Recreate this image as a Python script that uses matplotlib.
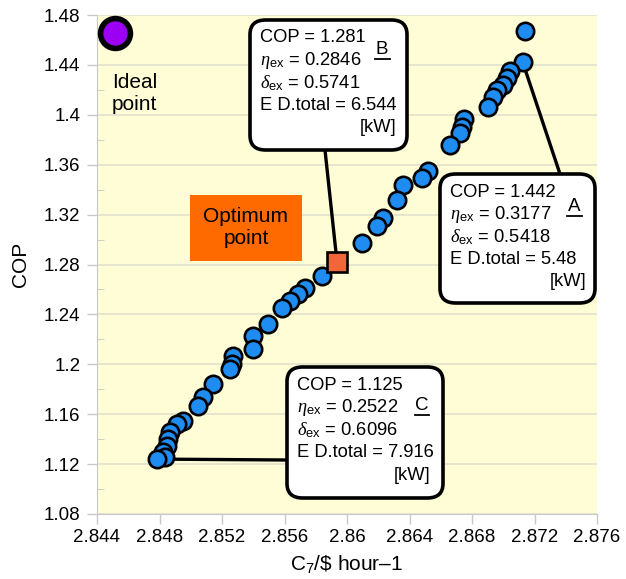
import matplotlib
matplotlib.use('Agg')
from matplotlib import pyplot as plt
from matplotlib.patches import FancyBboxPatch, Rectangle
from matplotlib.lines import Line2D

plt.rcParams['font.family'] = ['Liberation Sans', 'DejaVu Sans']
plt.rcParams['mathtext.fontset'] = 'custom'
plt.rcParams['mathtext.rm'] = 'Liberation Sans'
plt.rcParams['mathtext.sf'] = 'Liberation Sans'
plt.rcParams['mathtext.it'] = 'Liberation Serif:italic'

# Pareto front points (cost rate vs COP)
cost = [2.87139, 2.87124, 2.87043, 2.87022, 2.87000, 2.86958, 2.86936, 2.86904,
        2.86749, 2.86734, 2.86723, 2.86659, 2.86520, 2.86478, 2.86360, 2.86318,
        2.86232, 2.86190, 2.86094, 2.85838, 2.85731, 2.85688, 2.85635, 2.85582,
        2.85496, 2.85400, 2.85400, 2.85272, 2.85262, 2.85251, 2.85144, 2.85080,
        2.85048, 2.84952, 2.84910, 2.84867, 2.84856, 2.84846, 2.84824, 2.84835,
        2.84782]
cop = [1.4674, 1.4424, 1.4354, 1.4294, 1.4240, 1.4200, 1.4146, 1.4066,
       1.3966, 1.3906, 1.3856, 1.3760, 1.3546, 1.3494, 1.3440, 1.3320,
       1.3174, 1.3106, 1.2973, 1.2706, 1.2614, 1.2560, 1.2506, 1.2454,
       1.2320, 1.2226, 1.2120, 1.2066, 1.2000, 1.1960, 1.1840, 1.1734,
       1.1666, 1.1546, 1.1520, 1.1454, 1.1400, 1.1346, 1.1294, 1.1256,
       1.1240]

ideal_cost, ideal_cop = 2.84515, 1.4653
opt_cost, opt_cop = 2.85936, 1.2820
pt_a = (2.87124, 1.4424)
pt_c = (2.84782, 1.1240)

labels = {
    'B': ['COP = 1.281', r'$\eta_{\rm ex}$ = 0.2846', r'$\delta_{\rm ex}$ = 0.5741', 'E D.total = 6.544'],
    'A': ['COP = 1.442', r'$\eta_{\rm ex}$ = 0.3177', r'$\delta_{\rm ex}$ = 0.5418', 'E D.total = 5.48'],
    'C': ['COP = 1.125', r'$\eta_{\rm ex}$ = 0.2522', r'$\delta_{\rm ex}$ = 0.6096', 'E D.total = 7.916'],
}

W, H = 626, 579


def fxy(px, py):
    # figure pixels (from top-left) -> figure fraction
    return px / W, 1 - py / H


fig = plt.figure(figsize=(W / 100, H / 100), dpi=100)
ax = fig.add_axes([97 / W, 1 - 514 / H, 500 / W, 499 / H])
ax.set_facecolor('#FEFDD6')
ax.set_xlim(2.844, 2.876)
ax.set_ylim(1.08, 1.48)
ax.set_xticks([2.844 + 0.004 * i for i in range(9)])
ax.set_xticklabels(['2.844', '2.848', '2.852', '2.856', '2.86', '2.864', '2.868', '2.872', '2.876'])
ax.set_yticks([1.08 + 0.04 * i for i in range(11)])
ax.set_yticklabels(['1.08', '1.12', '1.16', '1.2', '1.24', '1.28', '1.32', '1.36', '1.4', '1.44', '1.48'])
ax.set_yticks([1.10 + 0.04 * i for i in range(10)], minor=True)
ax.tick_params(axis='both', labelsize=13.5, color='#C8C8C8', length=7, width=1)
ax.tick_params(axis='y', which='minor', direction='in', length=5, color='#C8C8C8')
ax.tick_params(axis='x', pad=4)
ax.tick_params(axis='y', pad=5)
ax.grid(axis='y', which='major', color='#E2E1CD', lw=1.2)
ax.set_axisbelow(True)
for s in ['top', 'right']:
    ax.spines[s].set_visible(False)
for s in ['left', 'bottom']:
    ax.spines[s].set_color('#C8C8C8')

ax.set_xlabel('C$_7$/\\$ hour\u20131', fontsize=15, labelpad=5)
ax.set_ylabel('COP', fontsize=15, labelpad=10)

# data marks
ax.plot(cost, cop, 'o', ms=12.5, mfc='#1E8CF0', mec='black', mew=1.9, zorder=5, clip_on=False)
ax.plot([opt_cost], [opt_cop], 's', ms=14, mfc='#F2673A', mec='black', mew=1.9, zorder=6)
ax.plot([ideal_cost], [ideal_cop], 'o', ms=21.5, mfc='#9B00F5', mec='black', mew=4, zorder=6, clip_on=False)

fig.text(*fxy(112, 93), 'Ideal\npoint', fontsize=15,
         ha='left', va='center', linespacing=1.2, zorder=7)

# optimum point label
x0, y1 = fxy(190, 261)
x1, y0 = fxy(302, 195)
fig.add_artist(Rectangle((x0, y1), x1 - x0, y0 - y1, transform=fig.transFigure,
                         facecolor='#FF6A00', edgecolor='none', zorder=3))
fig.text(*fxy(246, 227), 'Optimum\npoint', fontsize=15,
         ha='center', va='center', linespacing=1.2, zorder=7)


def callout(box, lines, letter, letter_xy, kw_right, target, anchor):
    left, top, right, bottom = box
    bx0, by0 = fxy(left, bottom)
    bx1, by1 = fxy(right, top)
    patch = FancyBboxPatch((bx0, by0), bx1 - bx0, by1 - by0,
                           boxstyle='round,pad=0,rounding_size=0.025',
                           transform=fig.transFigure, facecolor='white',
                           edgecolor='black', lw=2.6, zorder=8)
    fig.add_artist(patch)
    # connector from data point to box
    ax.annotate('', xy=target, xycoords='data', xytext=fxy(*anchor),
                textcoords='figure fraction',
                arrowprops=dict(arrowstyle='-', lw=2.4, color='black',
                                shrinkA=0, shrinkB=0), zorder=4)
    tx = left + 10
    ty = top + 18
    for i, line in enumerate(lines):
        fig.text(*fxy(tx, ty + 22.5 * i), line, fontsize=13.2, ha='left', va='center', zorder=9)
    fig.text(*fxy(kw_right, ty + 22.5 * 4), '[kW]', fontsize=13.2, ha='right', va='center', zorder=9)
    lx, ly = letter_xy
    fig.text(*fxy(lx, ly), letter, fontsize=13.5, ha='center', va='center', zorder=9)
    ux0, uy = fxy(lx - 7.5, ly + 9.5)
    ux1, _ = fxy(lx + 7.5, ly + 9.5)
    fig.add_artist(Line2D([ux0, ux1], [uy, uy], transform=fig.transFigure, color='black', lw=1.3, zorder=9))


callout((250, 20, 407, 150), labels['B'], 'B', (382, 49), 396, (opt_cost, opt_cop), (325, 150))
callout((440, 174, 595, 303), labels['A'], 'A', (574, 207), 586, pt_a, (560, 174))
callout((287, 367, 443, 498), labels['C'], 'C', (422, 405), 430, pt_c, (287, 460))

fig.savefig('out.png', dpi=100)
